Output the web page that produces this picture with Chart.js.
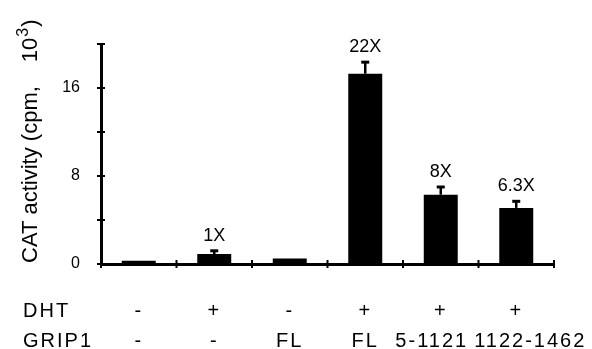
<!DOCTYPE html>
<html>
<head>
<meta charset="utf-8">
<script src="https://cdn.jsdelivr.net/npm/chart.js@4.4.1/dist/chart.umd.min.js"></script>
<style>
  body { margin: 0; background: #fff; }
  canvas { display: block; }
</style>
</head>
<body>
<canvas id="catChart" width="592" height="349"></canvas>
<script>
const dhtRow = ['-', '+', '-', '+', '+', '+'];
const grip1Row = ['-', '-', 'FL', 'FL', '5-1121', '1122-1462'];
const categories = dhtRow.map((d, i) => 'DHT ' + d + ' / GRIP1 ' + grip1Row[i]);
const activity = [0.3, 0.9, 0.5, 17.3, 6.3, 5.1];
const errorUp = [0, 0.3, 0, 1.05, 0.7, 0.6];
const foldLabels = ['', '1X', '', '22X', '8X', '6.3X'];
const labelledTicks = [0, 8, 16];
const yMax = 20;

// small nudges so the long GRIP1 entries don't collide
const grip1Shift = [0, 0, 0, 0, -9, 14];

const FONT = '"Liberation Sans", Arial, sans-serif';

function line(ctx, x1, y1, x2, y2) {
    ctx.beginPath();
    ctx.moveTo(x1, y1);
    ctx.lineTo(x2, y2);
    ctx.stroke();
}

const overlay = {
    id: 'overlay',
    afterDatasetsDraw(chart) {
        const { ctx, scales: { x, y } } = chart;
        const bars = chart.getDatasetMeta(0).data;
        ctx.save();
        ctx.strokeStyle = '#000';
        ctx.fillStyle = '#000';

        // error bars (upper only)
        bars.forEach((bar, i) => {
            if (!errorUp[i]) return;
            const top = y.getPixelForValue(activity[i] + errorUp[i]);
            ctx.lineWidth = 2.5;
            line(ctx, bar.x, bar.y, bar.x, top);
            ctx.lineWidth = 3;
            line(ctx, bar.x - 4, top, bar.x + 4, top);
        });

        // fold induction labels
        ctx.font = '18px ' + FONT;
        ctx.textAlign = 'center';
        ctx.textBaseline = 'alphabetic';
        bars.forEach((bar, i) => {
            if (!foldLabels[i]) return;
            const top = y.getPixelForValue(activity[i] + errorUp[i]);
            ctx.fillText(foldLabels[i], bar.x, top - 10);
        });

        // tick marks crossing the axes
        ctx.lineWidth = 2;
        y.ticks.forEach(t => {
            const py = y.getPixelForValue(t.value);
            line(ctx, x.left - 4, py, x.left + 4, py);
        });
        for (let k = 0; k <= categories.length; k++) {
            const px = x.getPixelForValue(k - 0.5);
            line(ctx, px, y.bottom - 4, px, y.bottom + 4);
        }
        ctx.restore();
    },
    afterDraw(chart) {
        const { ctx } = chart;
        const bars = chart.getDatasetMeta(0).data;
        ctx.save();
        ctx.fillStyle = '#000';

        // y title, with a real raised "3"
        ctx.save();
        ctx.translate(37, 263);
        ctx.rotate(-Math.PI / 2);
        ctx.textAlign = 'left';
        ctx.textBaseline = 'alphabetic';
        ctx.font = '22px ' + FONT;
        const head = 'CAT activity (cpm,';
        ctx.fillText(head, 0, 0);
        let tx = ctx.measureText(head).width + 24;
        ctx.fillText('10', tx, 0);
        tx += ctx.measureText('10').width + 1;
        ctx.font = '16px ' + FONT;
        ctx.fillText('3', tx, -9);
        tx += ctx.measureText('3').width + 1;
        ctx.font = '22px ' + FONT;
        ctx.fillText(')', tx, 0);
        ctx.restore();

        // condition table under the axis
        ctx.font = '20px ' + FONT;
        ctx.letterSpacing = '2px';
        ctx.textBaseline = 'alphabetic';
        ctx.textAlign = 'left';
        ctx.fillText('DHT', 23, 316.5);
        ctx.fillText('GRIP1', 23, 347);
        ctx.textAlign = 'center';
        bars.forEach((bar, i) => {
            ctx.fillText(dhtRow[i], bar.x, 316.5);
            ctx.fillText(grip1Row[i], bar.x + grip1Shift[i], 347);
        });
        ctx.restore();
    }
};

new Chart(document.getElementById('catChart'), {
    type: 'bar',
    data: {
        labels: categories,
        datasets: [{
            label: 'CAT activity',
            data: activity,
            backgroundColor: '#000',
            borderWidth: 0,
            categoryPercentage: 1,
            barPercentage: 0.45
        }]
    },
    options: {
        responsive: false,
        animation: false,
        layout: { padding: { top: 44, right: 38, bottom: 0, left: 0 } },
        plugins: {
            legend: { display: false },
            tooltip: { enabled: false }
        },
        scales: {
            x: {
                grid: { display: false, drawTicks: false },
                border: { color: '#000', width: 3 },
                ticks: { display: false },
                afterFit: s => { s.height = 85; }
            },
            y: {
                min: 0,
                max: yMax,
                grid: { display: false, drawTicks: false },
                border: { color: '#000', width: 3 },
                ticks: {
                    stepSize: 4,
                    padding: 21,
                    color: '#000',
                    font: { family: FONT, size: 16 },
                    callback: v => labelledTicks.includes(v) ? String(v) : ''
                },
                afterFit: s => { s.width = 101; }
            }
        }
    },
    plugins: [overlay]
});
</script>
</body>
</html>
